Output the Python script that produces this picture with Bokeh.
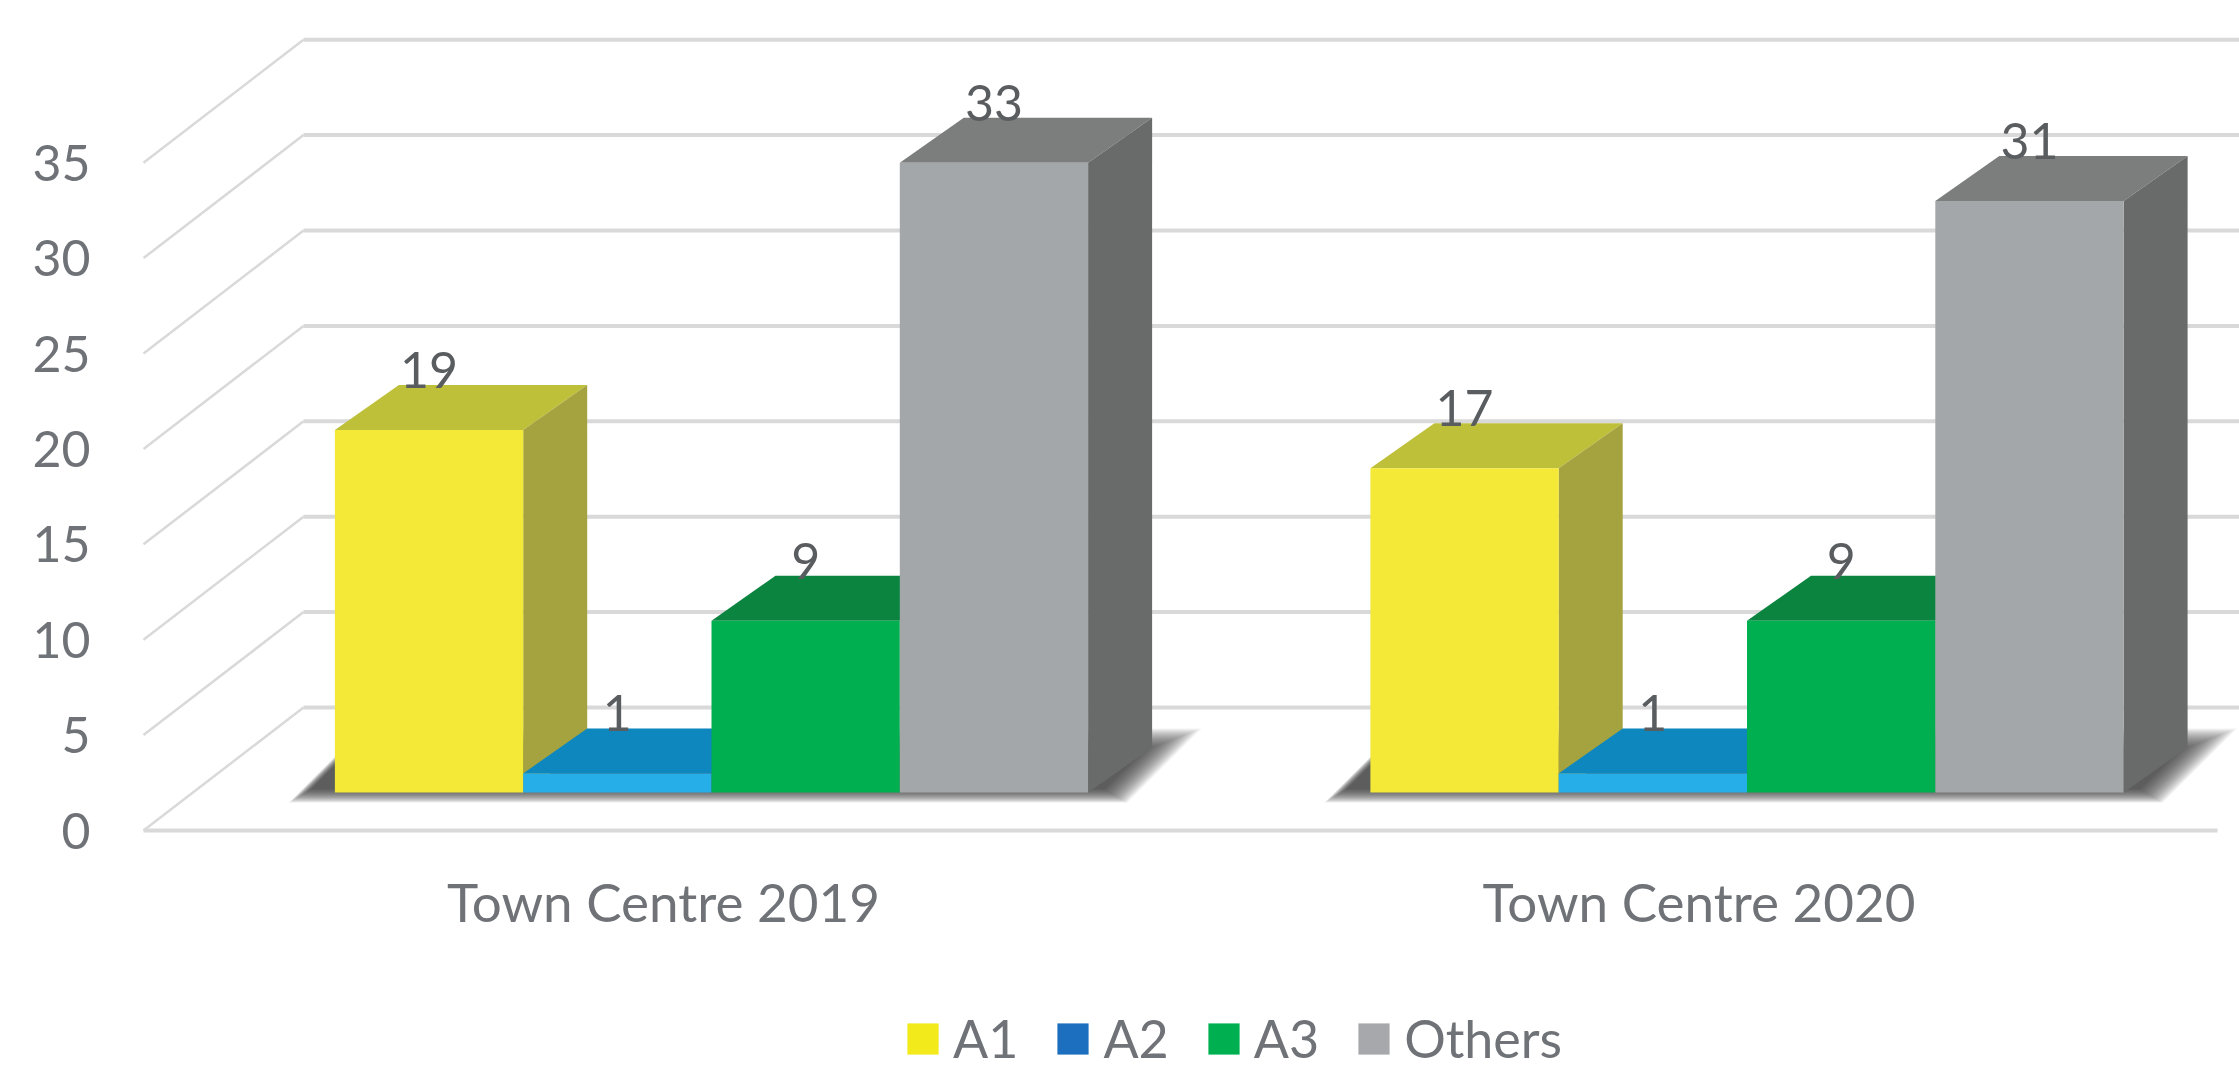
from bokeh.plotting import figure
from bokeh.models import Range1d, FixedTicker, Legend, LegendItem
from bokeh.embed import file_html
from bokeh.resources import INLINE
from bokeh.core.properties import value

# ---- data ----
categories = ["Town Centre 2019", "Town Centre 2020"]
series_names = ["A1", "A2", "A3", "Others"]
a1 = [19, 17]
a2 = [1, 1]
a3 = [9, 9]
others = [33, 31]
y_ticks = [0, 5, 10, 15, 20, 25, 30, 35]

# ---- style ----
front = ["#f3e936", "#26aee8", "#00b050", "#a4a7a9"]
top_c = ["#bfc03a", "#0e87bf", "#0b8440", "#7b7e7d"]
side = ["#a5a33f", "#1b6fbe", "#0a7a3b", "#686b6a"]
GRID = "#d9d9d9"
TEXT = "#6f7377"
LABEL = "#5a5d60"
FONT = "Lato"
FS = "50px"

# projection (in data units: x = one bar width, y = value units)
PX = 188.3
PY = 19.08
group_x = [0.0, 1035.5 / PX]
WALL_DX, WALL_DY = 160 / PX, 123 / PY      # floor depth
BAR_DX, BAR_DY = 48 / PX, 38 / PY          # bars' set-back from the floor front
TOP_DX, TOP_DY = 64 / PX, 45 / PY          # bar depth
X_MIN, X_MAX = (100 - 663) / PX, (2239 - 663) / PX
Y_MIN, Y_MAX = (830 - 1069) / PY, 830 / PY
FLOOR_L = (143 - 663) / PX
FLOOR_R = (2217 - 663) / PX

p = figure(width=2239, height=1069, output_backend="svg", toolbar_location=None,
           x_range=Range1d(X_MIN, X_MAX), y_range=Range1d(Y_MIN, Y_MAX),
           min_border_left=100, min_border_right=0, min_border_top=0, min_border_bottom=0,
           background_fill_color="white", border_fill_color="white", outline_line_color=None)
p.grid.visible = False

# axes
p.yaxis.ticker = FixedTicker(ticks=y_ticks)
p.xaxis.ticker = FixedTicker(ticks=group_x)
p.xaxis.major_label_overrides = {g: c for g, c in zip(group_x, categories)}
p.xaxis.fixed_location = (830 - 869) / PY
for ax in (p.xaxis[0], p.yaxis[0]):
    ax.axis_line_color = None
    ax.major_tick_line_color = None
    ax.minor_tick_line_color = None
    ax.major_tick_out = 0
    ax.major_tick_in = 0
    ax.major_label_text_color = TEXT
    ax.major_label_text_font = FONT
    ax.major_label_text_font_size = FS
p.xaxis.major_label_text_font_size = "53px"
p.yaxis.major_label_standoff = 10
p.xaxis.major_label_standoff = 0

# wall and floor grid
p.segment(x0=[FLOOR_L + WALL_DX] * len(y_ticks), x1=[X_MAX] * len(y_ticks),
          y0=[t + WALL_DY for t in y_ticks], y1=[t + WALL_DY for t in y_ticks],
          line_color=GRID, line_width=4)
p.segment(x0=[FLOOR_L] * len(y_ticks), x1=[FLOOR_L + WALL_DX] * len(y_ticks),
          y0=y_ticks, y1=[t + WALL_DY for t in y_ticks],
          line_color=GRID, line_width=2.5)
p.segment(x0=[FLOOR_L], x1=[FLOOR_R], y0=[0], y1=[0], line_color=GRID, line_width=4)

# soft shadows
LAYERS = 24
for g in group_x:
    left = g - 2 + BAR_DX
    right = g + 2 + BAR_DX
    for i in range(LAYERS):
        e = 12 - i
        xl = left - (34 + e) / PX
        xr = right + (27 + e) / PX
        yb = BAR_DY - (3 + e * 0.6) / PY
        yt = BAR_DY + (52 + e) / PY
        sh = (yt - yb) * PY / PX
        p.patch([xl, xr, xr + sh, xl + sh], [yb, yb, yt, yt],
                fill_color="#303030", fill_alpha=0.06, line_color=None)

# bars, left to right so that each one hides the side of the previous one
all_series = [a1, a2, a3, others]
for gi, g in enumerate(group_x):
    for si, vals in enumerate(all_series):
        v = vals[gi]
        l = g - 2 + si + BAR_DX
        r = l + 1
        b = BAR_DY
        t = b + v
        p.patch([l, r, r + TOP_DX, l + TOP_DX], [t, t, t + TOP_DY, t + TOP_DY],
                fill_color=top_c[si], line_color=None)
        p.patch([r, r + TOP_DX, r + TOP_DX, r], [b, b + TOP_DY, t + TOP_DY, t],
                fill_color=side[si], line_color=None)
        p.quad(left=[l], right=[r], bottom=[b], top=[t], fill_color=front[si], line_color=None)

# value labels
lx, ly, lt = [], [], []
for gi, g in enumerate(group_x):
    for si, vals in enumerate(all_series):
        lx.append(g - 1.5 + si + BAR_DX)
        ly.append(vals[gi] + BAR_DY + TOP_DY)
        lt.append(str(vals[gi]))
p.text(x=lx, y=ly, text=lt, text_align="center", text_baseline="alphabetic",
       text_color=LABEL, text_font=value(FONT), text_font_size=FS, y_offset=-15)

# legend: swatches carry the reference's legend colours
legend_c = ["#f2ea1b", "#1b6fbe", "#00b050", "#a6a8ab"]
items = []
for name, c in zip(series_names, legend_c):
    r = p.quad(left=[X_MIN], right=[X_MIN], bottom=[0], top=[0], fill_color=c, line_color=None)
    items.append(LegendItem(label=name, renderers=[r]))
legend = Legend(items=items, orientation="horizontal", location=(803, 0),
                glyph_width=39, glyph_height=39, label_standoff=11, spacing=35,
                label_text_font=FONT, label_text_font_size="52px", label_text_color=TEXT,
                border_line_color=None, background_fill_alpha=0,
                padding=0, margin=0)
p.add_layout(legend)

open("out.html", "w").write(file_html(p, INLINE))
